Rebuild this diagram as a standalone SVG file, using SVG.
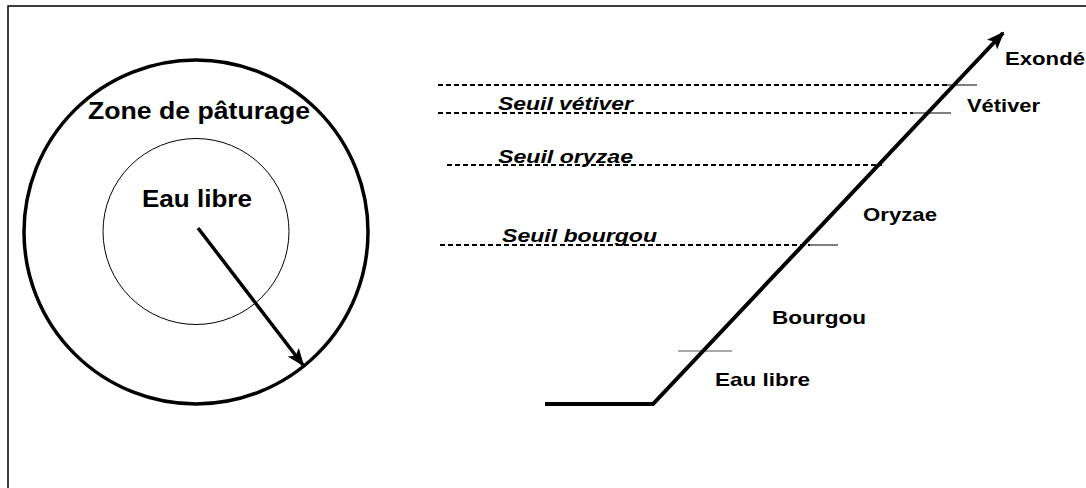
<svg xmlns="http://www.w3.org/2000/svg" width="1086" height="488" viewBox="0 0 1086 488">
<style>
.b{font-family:"Liberation Sans",Arial,sans-serif;font-weight:bold;fill:#000}
.i{font-family:"Liberation Sans",Arial,sans-serif;font-weight:bold;font-style:italic;fill:#000}
.dash{stroke:#000;stroke-width:1.8;stroke-dasharray:5,3;fill:none}
.thin{stroke:#000;stroke-width:1;fill:none}
</style>
<defs>
<marker id="ah" markerWidth="18" markerHeight="14" refX="16" refY="7" orient="auto" markerUnits="userSpaceOnUse">
<path d="M0,0 L18,7 L0,14 L4,7 Z" fill="#000"/>
</marker>
</defs>
<rect x="0" y="0" width="1086" height="488" fill="#fff"/>
<rect id="frame" x="8" y="6" width="1100" height="500" fill="none" stroke="#000" stroke-width="1.5"/>
<g id="pasture">
<circle cx="196" cy="232" r="172" fill="none" stroke="#000" stroke-width="3.5"/>
<text class="b" x="88" y="119" font-size="23" textLength="222" lengthAdjust="spacingAndGlyphs">Zone de pâturage</text>
</g>
<g id="water">
<circle cx="196" cy="231.5" r="93" fill="none" stroke="#000" stroke-width="1"/>
<text class="b" x="142" y="207" font-size="24" textLength="110" lengthAdjust="spacingAndGlyphs">Eau libre</text>
</g>
<g id="thresholds">
<line class="dash" x1="438" y1="85" x2="947" y2="85"/>
<line class="thin" x1="947" y1="85" x2="977" y2="85"/>
<line class="dash" x1="438" y1="113" x2="913" y2="113"/>
<line class="thin" x1="913" y1="113" x2="951" y2="113"/>
<line class="dash" x1="447" y1="165" x2="882" y2="165"/>
<line class="dash" x1="440" y1="245" x2="810" y2="245"/>
<line class="thin" x1="810" y1="245" x2="838" y2="245"/>
<line x1="678" y1="351" x2="732" y2="351" stroke="#555" stroke-width="1.2"/>
<text class="i" x="498" y="110" font-size="19" textLength="135" lengthAdjust="spacingAndGlyphs">Seuil vétiver</text>
<text class="i" x="498" y="163" font-size="19" textLength="135" lengthAdjust="spacingAndGlyphs">Seuil oryzae</text>
<text class="i" x="502" y="242" font-size="19" textLength="155" lengthAdjust="spacingAndGlyphs">Seuil bourgou</text>
</g>
<g id="labels">
<text class="b" x="1005" y="65" font-size="19" textLength="80" lengthAdjust="spacingAndGlyphs">Exondé</text>
<text class="b" x="967" y="112" font-size="19" textLength="73" lengthAdjust="spacingAndGlyphs">Vétiver</text>
<text class="b" x="863" y="221" font-size="19" textLength="74" lengthAdjust="spacingAndGlyphs">Oryzae</text>
<text class="b" x="772" y="324" font-size="19" textLength="94" lengthAdjust="spacingAndGlyphs">Bourgou</text>
<text class="b" x="715" y="386" font-size="19" textLength="95" lengthAdjust="spacingAndGlyphs">Eau libre</text>
</g>
<g id="connectors">
<line x1="198" y1="228" x2="303" y2="365" stroke="#000" stroke-width="3.5" marker-end="url(#ah)"/>
<polyline points="545,404 653,404 1003,33" fill="none" stroke="#000" stroke-width="4" marker-end="url(#ah)"/>
</g>
</svg>
